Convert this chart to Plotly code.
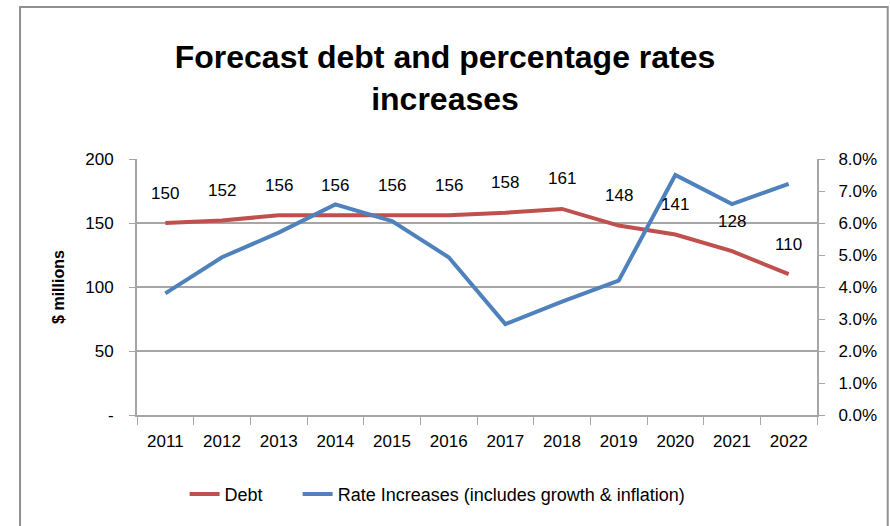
import plotly.graph_objects as go

years = ["2011", "2012", "2013", "2014", "2015", "2016", "2017", "2018", "2019", "2020", "2021", "2022"]
debt = [150, 152, 156, 156, 156, 156, 158, 161, 148, 141, 128, 110]
rate_pct = [3.80, 4.93, 5.70, 6.58, 6.06, 4.93, 2.84, 3.54, 4.20, 7.50, 6.59, 7.22]
left_ticks = [0, 50, 100, 150, 200]
left_labels = ["-", "50", "100", "150", "200"]
right_ticks = [0, 1, 2, 3, 4, 5, 6, 7, 8]
right_labels = ["0.0%", "1.0%", "2.0%", "3.0%", "4.0%", "5.0%", "6.0%", "7.0%", "8.0%"]

FONT = "Liberation Sans, Arial, sans-serif"
RED = "#C0504D"
BLUE = "#4F81BD"
GRID = "#A6A6A6"

fig = go.Figure()
fig.add_trace(go.Scatter(x=years, y=debt, mode="lines", name="Debt&nbsp;&nbsp;&nbsp;&nbsp;&nbsp;&nbsp;",
                         line=dict(color=RED, width=4), yaxis="y"))
fig.add_trace(go.Scatter(x=years, y=rate_pct, mode="lines",
                         name="Rate Increases (includes growth & inflation)",
                         line=dict(color=BLUE, width=4), yaxis="y2"))

for i, d in enumerate(debt):
    fig.add_annotation(x=i, y=d, xref="x", yref="y", text=str(d), showarrow=False,
                       yshift=30, font=dict(family=FONT, size=17, color="#000000"))

fig.add_shape(type="rect", xref="paper", yref="paper", x0=-0.172, x1=1.104, y0=-0.6, y1=1.594,
              line=dict(color="#909090", width=2), fillcolor="rgba(0,0,0,0)", layer="below")

fig.update_layout(
    width=890, height=526,
    margin=dict(l=137, r=73, t=159, b=111),
    paper_bgcolor="white", plot_bgcolor="white",
    title=dict(text="<b>Forecast debt and percentage rates<br>increases</b>",
               x=0.5, xanchor="center", y=0.87, yanchor="middle",
               font=dict(family=FONT, size=32, color="#000000")),
    font=dict(family=FONT, size=16, color="#000000"),
    showlegend=True,
    legend=dict(orientation="h", x=0.07, y=-0.31, xanchor="left", yanchor="middle",
                font=dict(family=FONT, size=18), itemwidth=30, tracegroupgap=0),
    xaxis=dict(type="category", categoryorder="array", categoryarray=years, range=[-0.5, 11.5],
               showgrid=False, showline=True, linecolor=GRID, linewidth=2,
               ticks="outside", tickson="boundaries", ticklen=8, tickcolor=GRID,
               tickfont=dict(family=FONT, size=17), tickangle=0, zeroline=False,
               ticklabelstandoff=10),
    yaxis=dict(range=[0, 200], tickvals=left_ticks, ticktext=left_labels,
               showgrid=True, gridcolor=GRID, gridwidth=1.5, showline=True, linecolor=GRID, linewidth=2,
               ticks="outside", ticklen=6, tickcolor=GRID, zeroline=False,
               tickfont=dict(family=FONT, size=17), ticklabelstandoff=12,
               title=dict(text="<b>$ millions</b>", font=dict(family=FONT, size=16), standoff=17)),
    yaxis2=dict(range=[0, 8], tickvals=right_ticks, ticktext=right_labels, overlaying="y", side="right",
                showgrid=False, showline=True, linecolor=GRID, linewidth=2,
                ticks="outside", ticklen=6, tickcolor=GRID, zeroline=False,
                tickfont=dict(family=FONT, size=17), ticklabelstandoff=10),
)

fig.write_html("out.html")
